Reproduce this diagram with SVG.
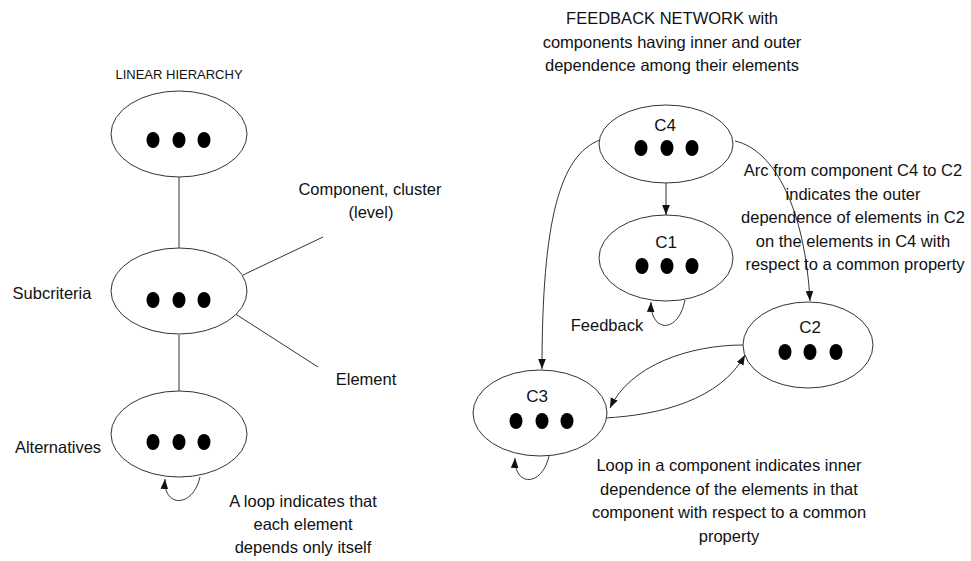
<svg xmlns="http://www.w3.org/2000/svg" width="971" height="561" viewBox="0 0 971 561">
<style>
.n{fill:#fff;stroke:#333;stroke-width:1}
.d{fill:#000}
.t{font-family:"Liberation Sans",Arial,sans-serif;font-size:16.5px;fill:#111;text-anchor:middle}
.c{fill:none;stroke:#333;stroke-width:1}
</style>
<defs>
<marker id="ah" viewBox="0 0 10 10" refX="10" refY="5" markerWidth="10" markerHeight="10" markerUnits="userSpaceOnUse" orient="auto">
<path d="M0,1.2 L10,5 L0,8.8 Z" fill="#111"/>
</marker>
</defs>
<rect width="971" height="561" fill="#fff"/>

<g id="connectors">
<line class="c" x1="179" y1="177" x2="179" y2="248"/>
<line class="c" x1="179" y1="335" x2="179" y2="392"/>
<line class="c" x1="243" y1="275" x2="323" y2="237"/>
<line class="c" x1="223" y1="306" x2="318" y2="367"/>
<path class="c" d="M200,477 C193,508 163,508 165,479" marker-end="url(#ah)"/>
<line class="c" x1="666" y1="183" x2="666" y2="215" marker-end="url(#ah)"/>
<path class="c" d="M685,300 C678,335 650,332 651,302" marker-end="url(#ah)"/>
<path class="c" d="M600,140 C560,155 542,220 542,369" marker-end="url(#ah)"/>
<path class="c" d="M735,141 C775,150 805,210 810,301" marker-end="url(#ah)"/>
<path class="c" d="M743,345 C690,345 630,365 610,408" marker-end="url(#ah)"/>
<path class="c" d="M605,418 C660,415 720,400 745,355" marker-end="url(#ah)"/>
<path class="c" d="M549,456 C542,487 514,487 515,458" marker-end="url(#ah)"/>
</g>

<g id="titles">
<text class="t" x="179" y="79" style="font-size:13px">LINEAR HIERARCHY</text>
<text class="t" x="672" y="24">FEEDBACK NETWORK with</text>
<text class="t" x="672" y="47.5">components having inner and outer</text>
<text class="t" x="672" y="71">dependence among their elements</text>
</g>

<g id="top">
<ellipse class="n" cx="179" cy="134" rx="68" ry="43"/>
<ellipse class="d" cx="153" cy="140" rx="6.5" ry="8"/>
<ellipse class="d" cx="179" cy="140" rx="6.5" ry="8"/>
<ellipse class="d" cx="204" cy="140" rx="6.5" ry="8"/>
</g>
<g id="subcriteria">
<ellipse class="n" cx="179" cy="291" rx="68" ry="43"/>
<ellipse class="d" cx="153" cy="300" rx="6.5" ry="8"/>
<ellipse class="d" cx="179" cy="300" rx="6.5" ry="8"/>
<ellipse class="d" cx="204" cy="300" rx="6.5" ry="8"/>
<text class="t" x="52" y="299">Subcriteria</text>
</g>
<g id="alternatives">
<ellipse class="n" cx="179" cy="434" rx="68" ry="43"/>
<ellipse class="d" cx="153" cy="442" rx="6.5" ry="8"/>
<ellipse class="d" cx="179" cy="442" rx="6.5" ry="8"/>
<ellipse class="d" cx="204" cy="442" rx="6.5" ry="8"/>
<text class="t" x="58" y="453">Alternatives</text>
</g>
<g id="left-notes">
<text class="t" x="370" y="195">Component, cluster</text>
<text class="t" x="371" y="218">(level)</text>
<text class="t" x="366" y="385">Element</text>
<text class="t" x="303" y="507">A loop indicates that</text>
<text class="t" x="303" y="530">each element</text>
<text class="t" x="303" y="553">depends only itself</text>
</g>

<g id="C4">
<ellipse class="n" cx="666" cy="144" rx="67" ry="39"/>
<text class="t" x="665" y="131" style="font-size:17px">C4</text>
<ellipse class="d" cx="641" cy="148" rx="6.5" ry="8"/>
<ellipse class="d" cx="667" cy="148" rx="6.5" ry="8"/>
<ellipse class="d" cx="692" cy="148" rx="6.5" ry="8"/>
</g>
<g id="C1">
<ellipse class="n" cx="666" cy="258" rx="67" ry="43"/>
<text class="t" x="666" y="248" style="font-size:17px">C1</text>
<ellipse class="d" cx="642" cy="266" rx="6.5" ry="8"/>
<ellipse class="d" cx="667" cy="266" rx="6.5" ry="8"/>
<ellipse class="d" cx="692" cy="266" rx="6.5" ry="8"/>
<text class="t" x="607" y="331">Feedback</text>
</g>
<g id="C2">
<ellipse class="n" cx="808" cy="345" rx="65" ry="43"/>
<text class="t" x="810" y="333" style="font-size:17px">C2</text>
<ellipse class="d" cx="785" cy="352" rx="6.5" ry="8"/>
<ellipse class="d" cx="810" cy="352" rx="6.5" ry="8"/>
<ellipse class="d" cx="836" cy="352" rx="6.5" ry="8"/>
</g>
<g id="C3">
<ellipse class="n" cx="540" cy="413" rx="67" ry="43"/>
<text class="t" x="537" y="402" style="font-size:17px">C3</text>
<ellipse class="d" cx="516" cy="421" rx="6.5" ry="8"/>
<ellipse class="d" cx="542" cy="421" rx="6.5" ry="8"/>
<ellipse class="d" cx="567" cy="421" rx="6.5" ry="8"/>
</g>

<g id="right-notes">
<text class="t" x="853" y="176">Arc from component C4 to C2</text>
<text class="t" x="853" y="199.5">indicates the outer</text>
<text class="t" x="853" y="223">dependence of elements in C2</text>
<text class="t" x="853" y="246.5">on the elements in C4 with</text>
<text class="t" x="855" y="270">respect to a common property</text>
<text class="t" x="729" y="471">Loop in a component indicates inner</text>
<text class="t" x="729" y="494.5">dependence of the elements in that</text>
<text class="t" x="729" y="518">component with respect to a common</text>
<text class="t" x="729" y="541.5">property</text>
</g>
</svg>
